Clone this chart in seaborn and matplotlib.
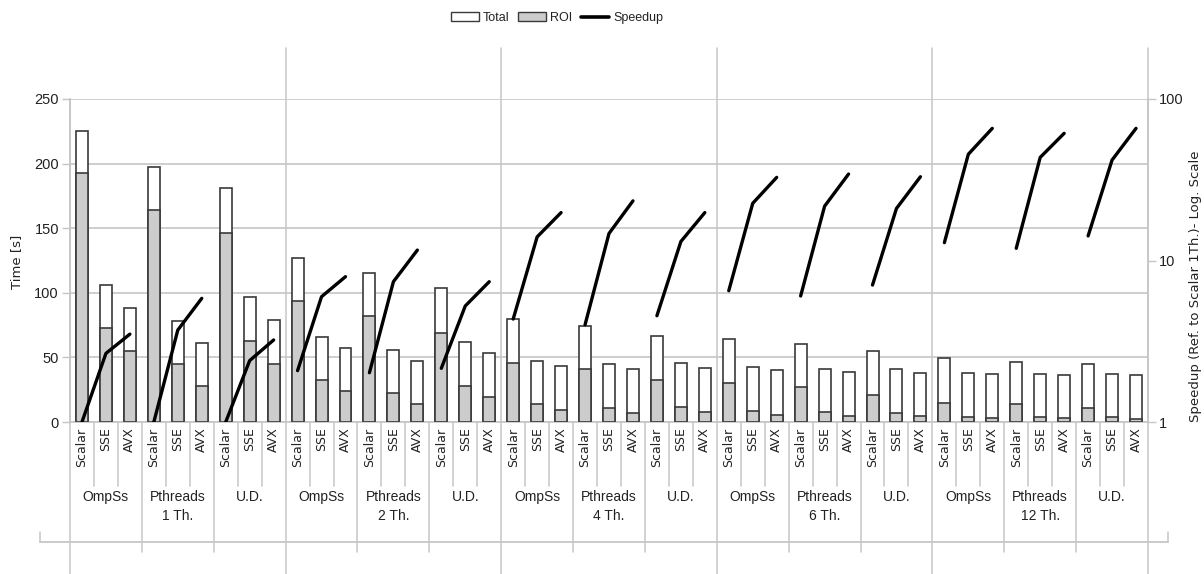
import matplotlib
matplotlib.use("Agg")
import matplotlib.pyplot as plt
from matplotlib.patches import Patch
from matplotlib.lines import Line2D
from matplotlib.ticker import NullLocator, FixedLocator, FixedFormatter
import seaborn as sns
import pandas as pd
import numpy as np

# ---------------------------------------------------------------- data
thread_counts = ["1", "2", "4", "6", "12"]
implementations = ["OmpSs", "Pthreads", "U.D."]
variants = ["Scalar", "SSE", "AVX"]

# Whole-program time [s]; one row per thread count,
# columns: OmpSs (Scalar, SSE, AVX), Pthreads (...), U.D. (...)
total_time = [
    [225.5, 106.0, 88.0, 197.0, 78.0, 61.4, 181.0, 96.5, 79.0],
    [126.7, 66.0, 57.5, 115.0, 55.7, 47.2, 103.5, 62.0, 53.7],
    [79.7, 47.5, 43.6, 74.3, 44.6, 40.8, 66.6, 45.4, 41.5],
    [64.0, 42.8, 40.2, 60.4, 40.8, 39.0, 55.0, 40.8, 38.2],
    [49.3, 38.2, 37.2, 46.7, 37.2, 36.1, 44.6, 37.2, 36.1],
]

# Region-of-interest time [s]
roi_time = [
    [193.0, 72.5, 55.0, 164.0, 44.6, 27.9, 146.5, 63.0, 45.0],
    [93.6, 32.5, 24.0, 82.0, 22.7, 14.0, 69.0, 28.0, 19.6],
    [45.4, 13.7, 9.5, 41.0, 11.0, 6.7, 32.5, 11.3, 7.5],
    [30.0, 8.8, 5.4, 27.3, 8.0, 4.9, 20.9, 7.2, 4.6],
    [15.0, 4.1, 2.8, 13.9, 4.1, 2.8, 10.6, 3.6, 2.1],
]

# Speedup relative to the single-thread scalar run
speedup = [
    [1.0, 2.66, 3.5, 1.0, 3.71, 5.83, 1.0, 2.4, 3.22],
    [2.08, 5.97, 7.94, 2.02, 7.39, 11.6, 2.15, 5.23, 7.39],
    [4.34, 14.0, 19.8, 4.0, 14.7, 23.4, 4.55, 13.1, 19.8],
    [6.5, 22.6, 32.7, 6.03, 21.7, 34.3, 7.05, 21.0, 33.0],
    [12.9, 45.5, 65.8, 11.9, 43.5, 61.3, 14.2, 41.9, 65.8],
]

# ---------------------------------------------------------------- table
records = []
for ti, th in enumerate(thread_counts):
    for ii, impl in enumerate(implementations):
        for vi, var in enumerate(variants):
            k = ii * 3 + vi
            records.append(dict(
                key=f"{th}|{impl}|{var}",
                threads=th, impl=impl, variant=var,
                segment=f"{th}|{impl}",
                total=total_time[ti][k],
                roi=roi_time[ti][k],
                speedup=speedup[ti][k],
            ))
df = pd.DataFrame(records)
df["pos"] = np.arange(len(df))
order = df["key"].tolist()
n = len(order)
per_thread = len(implementations) * len(variants)

# ---------------------------------------------------------------- style
sns.set_style("white")
narrow = ["Liberation Sans Narrow", "Liberation Sans", "DejaVu Sans"]
wide = ["DejaVu Sans"]
plt.rcParams["font.family"] = narrow
text_col = "#222222"
grid_col = "#c6c6c6"
edge_col = "#3a3a3a"
roi_col = "#cccccc"

W, H = 1204, 574
fig = plt.figure(figsize=(W / 100, H / 100), dpi=100)
ax_l, ax_r, ax_t, ax_b = 70, 1148, 99, 422
ax = fig.add_axes([ax_l / W, 1 - ax_b / H, (ax_r - ax_l) / W, (ax_b - ax_t) / H])
ax_h = ax_b - ax_t


def ay(px):
    """Pixel row -> axes fraction of the main axes."""
    return (ax_b - px) / ax_h


# ---------------------------------------------------------------- bars
sns.barplot(data=df, x="key", y="total", order=order, color="white",
            saturation=1, edgecolor=edge_col, linewidth=1.2, width=0.5,
            errorbar=None, ax=ax, zorder=2)
sns.barplot(data=df, x="key", y="roi", order=order, color=roi_col,
            saturation=1, edgecolor=edge_col, linewidth=1.2, width=0.5,
            errorbar=None, ax=ax, zorder=3)

ax.set_ylim(0, 250)
ax.set_xlim(-0.5, n - 0.5)
ax.set_axisbelow(True)
ax.yaxis.grid(True, color=grid_col, linewidth=1.2)
ax.xaxis.grid(False)
ax.set_yticks([0, 50, 100, 150, 200, 250])
ax.tick_params(axis="y", length=6, width=1, color=grid_col, labelsize=10.5,
               labelcolor=text_col, pad=2)
ax.set_xticks(range(n))
ax.set_xticklabels(df["variant"].tolist(), rotation=90, family=wide,
                   fontsize=9, color=text_col)
ax.tick_params(axis="x", length=0, pad=4)
ax.set_xlabel("")
ax.set_ylabel("")
for side in ("top", "right"):
    ax.spines[side].set_visible(False)
for side in ("left", "bottom"):
    ax.spines[side].set_color(grid_col)
    ax.spines[side].set_linewidth(1.2)

# ---------------------------------------------------------------- speedup
ax2 = ax.twinx()
sns.lineplot(data=df, x="pos", y="speedup", units="segment", estimator=None,
             color="black", linewidth=2.4, ax=ax2, legend=False, zorder=5)
ax2.set_yscale("log")
ax2.set_ylim(1, 100)
ax2.yaxis.set_major_locator(FixedLocator([1, 10, 100]))
ax2.yaxis.set_major_formatter(FixedFormatter(["1", "10", "100"]))
ax2.yaxis.set_minor_locator(NullLocator())
ax2.tick_params(axis="y", length=6, width=1, color=grid_col, labelsize=10.5,
                labelcolor=text_col, pad=2)
ax2.set_xlim(-0.5, n - 0.5)
ax2.set_xlabel("")
ax2.set_ylabel("")
for side in ("top", "left", "bottom"):
    ax2.spines[side].set_visible(False)
ax2.spines["right"].set_color(grid_col)
ax2.spines["right"].set_linewidth(1.2)

# ---------------------------------------------------------------- category frame
xt = ax.get_xaxis_transform()
for b in range(n + 1):
    xb = b - 0.5
    if b % per_thread == 0:
        top = 1.0 if b == 0 else ay(48)
        y0, y1 = ay(574), top
    elif b % len(variants) == 0:
        y0, y1 = ay(552), 0
    else:
        y0, y1 = ay(486), 0
    ax.plot([xb, xb], [y0, y1], transform=xt, color=grid_col, lw=1.1,
            clip_on=False, zorder=1)

x_left = (40 - ax_l) / (ax_r - ax_l)
x_right = (1168 - ax_l) / (ax_r - ax_l)
ax.plot([x_left, x_right], [ay(542), ay(542)], transform=ax.transAxes,
        color=grid_col, lw=1.3, clip_on=False)
for xe in (x_left, x_right):
    ax.plot([xe, xe], [ay(532), ay(542)], transform=ax.transAxes,
            color=grid_col, lw=1.1, clip_on=False)

# implementation labels (thread count under Pthreads)
for ti, th in enumerate(thread_counts):
    for ii, impl in enumerate(implementations):
        centre = ti * per_thread + ii * len(variants) + 1
        label = f"{impl}\n{th} Th." if impl == "Pthreads" else impl
        ax.text(centre, ay(490), label, transform=xt, ha="center", va="top",
                fontsize=10, color=text_col, linespacing=1.45)

# ---------------------------------------------------------------- titles
fig.text(17 / W, 1 - 262 / H, "Time [s]", rotation=90, ha="center",
         va="center", family=wide, fontsize=9.5, color=text_col)
fig.text(1195 / W, 1 - 286 / H, "Speedup (Ref. to Scalar 1Th.)- Log. Scale",
         rotation=90, ha="center", va="center", family=wide, fontsize=9.5,
         color=text_col)

handles = [
    Patch(facecolor="white", edgecolor=edge_col, linewidth=1.0),
    Patch(facecolor=roi_col, edgecolor=edge_col, linewidth=1.0),
    Line2D([], [], color="black", linewidth=2.6),
]
fig.legend(handles, ["Total", "ROI", "Speedup"], loc="center",
           bbox_to_anchor=(557 / W, 1 - 18 / H), ncol=3, frameon=False,
           fontsize=9, handlelength=2.2, handleheight=0.65,
           handletextpad=0.35, columnspacing=0.7, labelcolor=text_col)

fig.savefig("out.png", dpi=100)
